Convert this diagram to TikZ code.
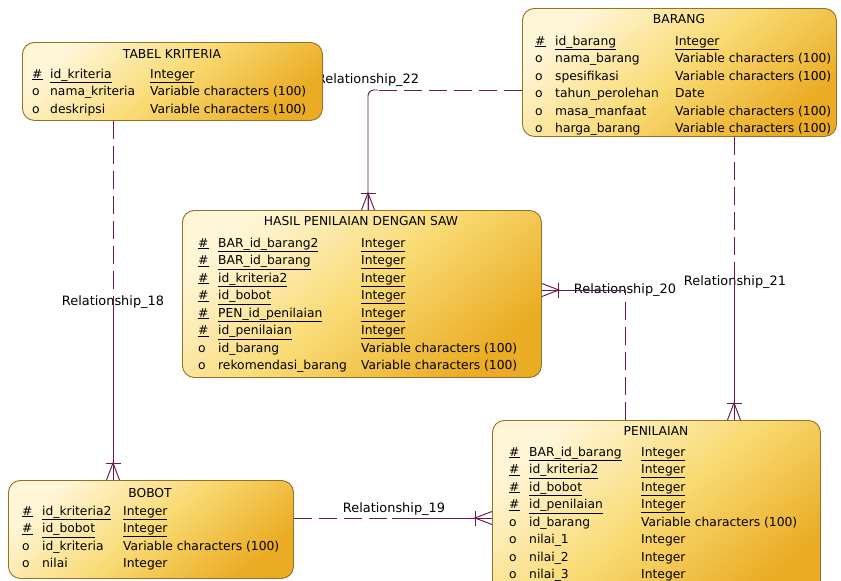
\documentclass[tikz,border=0pt]{standalone}
\usepackage{fontspec}
\setmainfont{DejaVu Sans}
\usepackage{array}
\definecolor{relc}{RGB}{105,25,80}
\definecolor{boxdraw}{RGB}{150,112,36}
\definecolor{boxlight}{RGB}{255,246,215}
\definecolor{boxmid}{RGB}{249,218,115}
\definecolor{boxdark}{RGB}{234,172,36}
\newcommand{\ky}[1]{\underline{#1}}
\tikzset{
  entity/.style={draw=boxdraw, line width=0.9pt, rounded corners=12pt,
    top color=boxlight, bottom color=boxdark, middle color=boxmid, shading angle=40,
    anchor=north west, inner sep=0pt},
  ttl/.style={font=\fontsize{12.3}{14}\selectfont, anchor=base, inner sep=0pt},
  rows/.style={font=\fontsize{12.3}{17.5}\selectfont, anchor=base west, inner sep=0pt},
  rel/.style={draw=relc, line width=0.95pt},
  optl/.style={rel, dash pattern=on 18pt off 7pt},
  lbl/.style={font=\fontsize{12.9}{14}\selectfont, anchor=base, inner sep=0pt},
  crow/.pic={\draw[rel] (-7.5,-17)--(7.5,-17);
             \draw[rel] (-6.5,0)--(0,-17)--(6.5,0);
             \draw[rel] (0,0)--(0,-17);}
}
\begin{document}
\begin{tikzpicture}[x=1pt,y=-1pt]
\useasboundingbox (0,0) rectangle (841,581);
\clip (0,0) rectangle (841,581);
\fill[white] (0,0) rectangle (841,581);

% relationship labels (drawn first, under the boxes)
\node[lbl] (l22) at (368,83) {Relationship\_22};
\node[lbl] (l20) at (625,293) {Relationship\_20};
\node[lbl] (l21) at (735,285) {Relationship\_21};
\node[lbl] (l18) at (113,305) {Relationship\_18};
\node[lbl] (l19) at (394,512) {Relationship\_19};

% entity boxes
\node[entity, minimum width=300pt, minimum height=78pt] (kriteria) at (22,42) {};
\node[entity, minimum width=314pt, minimum height=128pt] (barang) at (522,8) {};
\node[entity, minimum width=359pt, minimum height=167pt] (hasil) at (182,210) {};
\node[entity, minimum width=328pt, minimum height=180pt] (penilaian) at (492,420) {};
\node[entity, minimum width=285pt, minimum height=98pt] (bobot) at (8,480) {};

% connectors
\coordinate (c18) at (113,300);
\draw[optl] (kriteria.south -| c18) -- (c18);
\draw[rel] (c18) -- (bobot.north -| c18);
\pic at (bobot.north -| c18) {crow};

\coordinate (c21) at (734,278);
\draw[optl] (barang.south -| c21) -- (c21);
\draw[rel] (c21) -- (penilaian.north -| c21);
\pic at (penilaian.north -| c21) {crow};

\coordinate (c19) at (392,518);
\draw[optl] (bobot.east |- c19) -- (c19);
\draw[rel] (c19) -- (penilaian.west |- c19);
\pic[rotate=90] at (penilaian.west |- c19) {crow};

\coordinate (c20) at (625,290);
\draw[optl] (penilaian.north -| c20) -- (c20);
\draw[rel] (c20) -- (hasil.east |- c20);
\pic[rotate=-90] at (hasil.east |- c20) {crow};

\coordinate (c22) at (368,90);
\coordinate (c22b) at (378,90);
\draw[optl] (barang.west |- c22) -- (c22b);
\draw[rel, rounded corners=6pt] (c22b) -- (c22) -- (hasil.north -| c22);
\pic at (hasil.north -| c22) {crow};

% TABEL KRITERIA
\node[ttl] (kriteriaT) at (172,58) {TABEL KRITERIA};
\node[rows] (kriteriaR) at (32,78) {\begin{tabular}[t]{@{}p{18pt}@{}p{100pt}@{}l@{}}
\ky{\#} & \ky{id\_kriteria} & \ky{Integer}\\
o & nama\_kriteria & Variable characters (100)\\
o & deskripsi & Variable characters (100)
\end{tabular}};

% BARANG
\node[ttl] (barangT) at (679,23) {BARANG};
\node[rows] (barangR) at (535,45) {\begin{tabular}[t]{@{}p{20pt}@{}p{120pt}@{}l@{}}
\ky{\#} & \ky{id\_barang} & \ky{Integer}\\
o & nama\_barang & Variable characters (100)\\
o & spesifikasi & Variable characters (100)\\
o & tahun\_perolehan & Date\\
o & masa\_manfaat & Variable characters (100)\\
o & harga\_barang & Variable characters (100)
\end{tabular}};

% HASIL PENILAIAN DENGAN SAW
\node[ttl] (hasilT) at (361,225) {HASIL PENILAIAN DENGAN SAW};
\node[rows] (hasilR) at (198,247) {\begin{tabular}[t]{@{}p{20pt}@{}p{143pt}@{}l@{}}
\ky{\#} & \ky{BAR\_id\_barang2} & \ky{Integer}\\
\ky{\#} & \ky{BAR\_id\_barang} & \ky{Integer}\\
\ky{\#} & \ky{id\_kriteria2} & \ky{Integer}\\
\ky{\#} & \ky{id\_bobot} & \ky{Integer}\\
\ky{\#} & \ky{PEN\_id\_penilaian} & \ky{Integer}\\
\ky{\#} & \ky{id\_penilaian} & \ky{Integer}\\
o & id\_barang & Variable characters (100)\\
o & rekomendasi\_barang & Variable characters (100)
\end{tabular}};

% PENILAIAN
\node[ttl] (penilaianT) at (656,435) {PENILAIAN};
\node[rows] (penilaianR) at (509,456) {\begin{tabular}[t]{@{}p{20pt}@{}p{112pt}@{}l@{}}
\ky{\#} & \ky{BAR\_id\_barang} & \ky{Integer}\\
\ky{\#} & \ky{id\_kriteria2} & \ky{Integer}\\
\ky{\#} & \ky{id\_bobot} & \ky{Integer}\\
\ky{\#} & \ky{id\_penilaian} & \ky{Integer}\\
o & id\_barang & Variable characters (100)\\
o & nilai\_1 & Integer\\
o & nilai\_2 & Integer\\
o & nilai\_3 & Integer
\end{tabular}};

% BOBOT
\node[ttl] (bobotT) at (150,497) {BOBOT};
\node[rows] (bobotR) at (22,515) {\begin{tabular}[t]{@{}p{20pt}@{}p{81pt}@{}l@{}}
\ky{\#} & \ky{id\_kriteria2} & \ky{Integer}\\
\ky{\#} & \ky{id\_bobot} & \ky{Integer}\\
o & id\_kriteria & Variable characters (100)\\
o & nilai & Integer
\end{tabular}};
\end{tikzpicture}
\end{document}
